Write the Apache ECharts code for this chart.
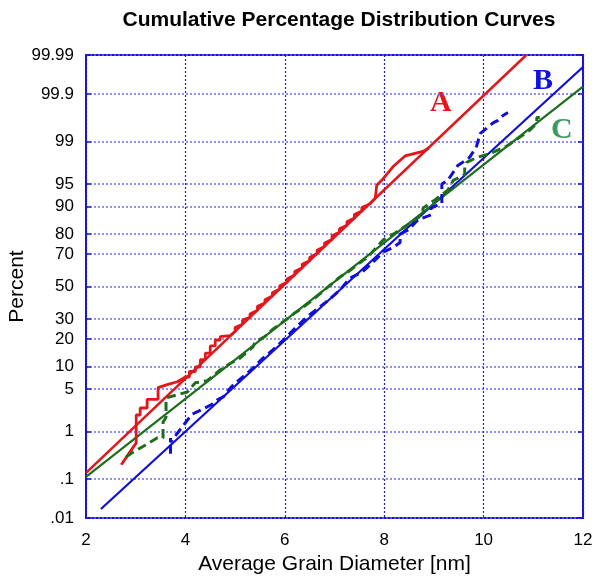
<!DOCTYPE html>
<html><head><meta charset="utf-8">
<script src="https://cdn.jsdelivr.net/npm/echarts@6/dist/echarts.min.js"></script>
<style>html,body{margin:0;padding:0;background:#fff}#c{width:593px;height:577px}</style>
</head><body><div id="c"></div>
<script>
// ---- tick definitions ----
const pctTicks = [0.01, 0.1, 1, 5, 10, 20, 30, 50, 70, 80, 90, 95, 99, 99.9, 99.99];
const pctTickLabels = ['.01', '.1', '1', '5', '10', '20', '30', '50', '70', '80', '90', '95', '99', '99.9', '99.99'];
const xMin = 2, xMax = 12, xStep = 2;

// ---- fitted normal lines: [diameter nm, cumulative percent] ----
const fitA = [[2, 0.137], [10.86, 99.99]];
const fitB = [[2.3, 0.0175], [12, 99.979]];
const fitC = [[2, 0.111], [12, 99.934]];

// ---- measured cumulative distributions ----
const dataA = [
  [2.71, 0.21], [2.85, 0.35], [3.01, 0.60], [3.01, 1.95], [3.09, 1.95], [3.09, 2.55], [3.23, 2.55], [3.23, 3.5],
  [3.45, 3.5], [3.45, 5.2], [3.65, 5.8], [3.84, 6.3], [4.0, 7.3], [4.08, 7.3], [4.08, 8.6], [4.2, 8.6], [4.2, 9.8],
  [4.3, 9.8], [4.3, 12.0], [4.4, 12.0], [4.4, 14.2], [4.5, 14.2], [4.5, 17.0], [4.6, 17.0], [4.6, 19.5], [4.7, 19.5],
  [4.7, 21.0], [4.9, 21.5], [5.0, 23.5], [5.0, 25.5], [5.15, 27.2], [5.15, 29.5], [5.3, 31.0], [5.3, 33.0],
  [5.45, 35.2], [5.45, 37.5], [5.6, 39.5], [5.6, 41.5], [5.75, 43.9], [5.75, 46.0], [5.9, 48.4], [5.9, 50.5],
  [6.05, 52.9], [6.05, 55.0], [6.2, 57.4], [6.2, 59.5], [6.35, 61.8], [6.35, 64.0], [6.5, 66.1], [6.5, 68.0],
  [6.65, 70.2], [6.65, 72.0], [6.8, 74.0], [6.8, 75.8], [6.95, 77.5], [6.95, 79.2], [7.1, 80.8], [7.1, 82.3],
  [7.25, 83.7], [7.25, 85.1], [7.4, 86.4], [7.4, 87.6], [7.55, 88.7], [7.55, 89.8], [7.7, 90.7], [7.82, 92.2],
  [7.85, 94.8], [7.95, 95.6], [8.18, 97.3], [8.42, 98.2], [8.78, 98.5], [8.9, 98.7]
];
const dataB = [
  [3.70, 0.36], [3.70, 0.75], [3.70, 0.62], [3.85, 0.95], [4.0, 1.43], [4.13, 2.0], [4.33, 2.4], [4.53, 2.9],
  [4.63, 3.4], [4.76, 3.8], [4.93, 5.4], [5.04, 6.3], [5.16, 7.4], [5.36, 9.5], [5.56, 12.5], [5.76, 15.4],
  [5.97, 19.5], [6.17, 24.2], [6.45, 31.4], [6.71, 37.3], [6.91, 42.1], [7.11, 47.8], [7.31, 55.4], [7.56, 59.2],
  [7.82, 66.5], [7.98, 71.0], [8.16, 73.2], [8.32, 76.0], [8.32, 80.0], [8.48, 81.8], [8.68, 85.8], [8.94, 87.5],
  [8.94, 89.6], [9.16, 91.0], [9.16, 95.0], [9.28, 95.6], [9.48, 97.4], [9.58, 97.7], [9.72, 98.1], [9.86, 98.8],
  [9.93, 99.3], [10.19, 99.57], [10.29, 99.62], [10.39, 99.70], [10.49, 99.74]
];
const dataC = [
  [2.81, 0.31], [2.95, 0.39], [3.19, 0.54], [3.43, 0.75], [3.55, 0.75], [3.55, 1.46], [3.61, 1.79], [3.61, 3.67],
  [3.84, 4.1], [4.04, 4.5], [4.2, 6.1], [4.44, 6.5], [4.7, 9.0], [4.9, 10.8], [5.1, 12.5], [5.36, 16.6],
  [5.4, 18.5], [5.6, 21.1], [5.74, 24.2], [6.07, 30.6], [6.2, 33.5], [6.35, 36.5], [6.61, 42.7], [6.87, 49.7],
  [7.11, 56.1], [7.27, 59.2], [7.45, 63.5], [7.67, 68.2], [7.98, 77.3], [8.22, 80.5], [8.56, 85.0], [8.78, 88.0],
  [8.78, 89.6], [9.02, 91.8], [9.28, 93.9], [9.39, 95.6], [9.62, 96.4], [9.62, 97.2], [9.66, 97.7], [9.87, 98.1],
  [10.07, 98.3], [10.23, 98.5], [10.47, 98.8], [10.73, 99.18], [10.93, 99.4], [11.07, 99.57], [11.07, 99.67], [11.13, 99.67]
];

// inverse normal CDF (percent -> z), used as the probability-scale transform
function probit(pct) {
  const p = pct / 100;
  const a = [-3.969683028665376e+01, 2.209460984245205e+02, -2.759285104469687e+02, 1.383577518672690e+02, -3.066479806614716e+01, 2.506628277459239e+00];
  const b = [-5.447609879822406e+01, 1.615858368580409e+02, -1.556989798598866e+02, 6.680131188771972e+01, -1.328068155288572e+01];
  const c = [-7.784894002430293e-03, -3.223964580411365e-01, -2.400758277161838e+00, -2.549732539343734e+00, 4.374664141464968e+00, 2.938163982698783e+00];
  const d = [7.784695709041462e-03, 3.224671290700398e-01, 2.445134137142996e+00, 3.754408661907416e+00];
  const plow = 0.02425, phigh = 1 - plow;
  let q, r;
  if (p < plow) {
    q = Math.sqrt(-2 * Math.log(p));
    return (((((c[0] * q + c[1]) * q + c[2]) * q + c[3]) * q + c[4]) * q + c[5]) / ((((d[0] * q + d[1]) * q + d[2]) * q + d[3]) * q + 1);
  }
  if (p <= phigh) {
    q = p - 0.5; r = q * q;
    return (((((a[0] * r + a[1]) * r + a[2]) * r + a[3]) * r + a[4]) * r + a[5]) * q / (((((b[0] * r + b[1]) * r + b[2]) * r + b[3]) * r + b[4]) * r + 1);
  }
  q = Math.sqrt(-2 * Math.log(1 - p));
  return -(((((c[0] * q + c[1]) * q + c[2]) * q + c[3]) * q + c[4]) * q + c[5]) / ((((d[0] * q + d[1]) * q + d[2]) * q + d[3]) * q + 1);
}
const toZ = arr => arr.map(([x, p]) => [x, probit(p)]);
const zTicks = pctTicks.map(probit);
const zMin = probit(pctTicks[0]), zMax = probit(pctTicks[pctTicks.length - 1]);
function zLabel(v) {
  for (let i = 0; i < zTicks.length; i++) if (Math.abs(zTicks[i] - v) < 1e-6) return pctTickLabels[i];
  return '';
}

const RED = '#e3161b', BLUE = '#0f0fd8', GREEN = '#1d6d1d';
const FONT = '"Liberation Sans", Arial, sans-serif';

const chart = echarts.init(document.getElementById('c'), null, { renderer: 'canvas' });
chart.setOption({
  animation: false,
  backgroundColor: '#fff',
  title: {
    text: 'Cumulative Percentage Distribution Curves',
    left: 334, top: 5, textAlign: 'center',
    textStyle: { fontFamily: FONT, fontSize: 21, fontWeight: 'bold', color: '#000' }
  },
  grid: {
    left: 86, right: 10, top: 55, bottom: 59, containLabel: false, outerBoundsMode: 'none',
    show: true, borderColor: '#1414d0', borderWidth: 2, backgroundColor: 'transparent'
  },
  xAxis: {
    type: 'value', min: xMin, max: xMax, interval: xStep,
    name: 'Average Grain Diameter [nm]', nameLocation: 'middle', nameGap: 36,
    nameTextStyle: { fontFamily: FONT, fontSize: 21, color: '#000' },
    axisLine: { show: false },
    axisTick: { show: false },
    axisLabel: { fontFamily: FONT, fontSize: 17, color: '#000', margin: 14 },
    splitLine: { show: true, lineStyle: { color: '#2020d8', width: 1.2, type: [2, 2] } }
  },
  yAxis: [{
    type: 'value', min: zMin, max: zMax,
    name: 'Percent', nameLocation: 'middle', nameGap: 58, nameRotate: 90, nameMoveOverlap: false,
    nameTextStyle: { fontFamily: FONT, fontSize: 21, color: '#000' },
    axisLine: { show: false },
    axisTick: { show: true, inside: true, length: 5, customValues: zTicks, lineStyle: { color: '#1414d0', width: 1.5 } },
    axisLabel: { customValues: zTicks, formatter: zLabel, fontFamily: FONT, fontSize: 17, color: '#000', margin: 12 },
    splitLine: { show: true, lineStyle: { color: '#6a6af0', width: 1.5, type: [2, 2] } }
  }, {
    type: 'value', min: zMin, max: zMax, position: 'right',
    axisLine: { show: false },
    axisTick: { show: true, inside: true, length: 5, customValues: zTicks, lineStyle: { color: '#1414d0', width: 1.5 } },
    axisLabel: { show: false, customValues: zTicks },
    splitLine: { show: false }
  }],
  series: [
    { type: 'line', data: toZ(fitA), showSymbol: false, lineStyle: { color: RED, width: 2.5 } },
    { type: 'line', data: toZ(fitB), showSymbol: false, lineStyle: { color: BLUE, width: 2.2 } },
    { type: 'line', data: toZ(fitC), showSymbol: false, lineStyle: { color: GREEN, width: 2.2 } },
    { type: 'line', data: toZ(dataA), showSymbol: false, lineStyle: { color: RED, width: 2.8 } },
    { type: 'line', data: toZ(dataB), showSymbol: false, lineStyle: { color: BLUE, width: 3, type: [9, 5] } },
    { type: 'line', data: toZ(dataC), showSymbol: false, lineStyle: { color: GREEN, width: 3, type: [9, 5] } }
  ],
  graphic: [
    { type: 'text', left: 430, top: 88, style: { text: 'A', fill: '#e8141a', font: 'bold 30px "Liberation Serif", "Times New Roman", serif' } },
    { type: 'text', left: 533, top: 66, style: { text: 'B', fill: '#1010e6', font: 'bold 30px "Liberation Serif", "Times New Roman", serif' } },
    { type: 'text', left: 551, top: 115, style: { text: 'C', fill: '#3b9a62', font: 'bold 30px "Liberation Serif", "Times New Roman", serif' } }
  ]
});
</script>
</body></html>
